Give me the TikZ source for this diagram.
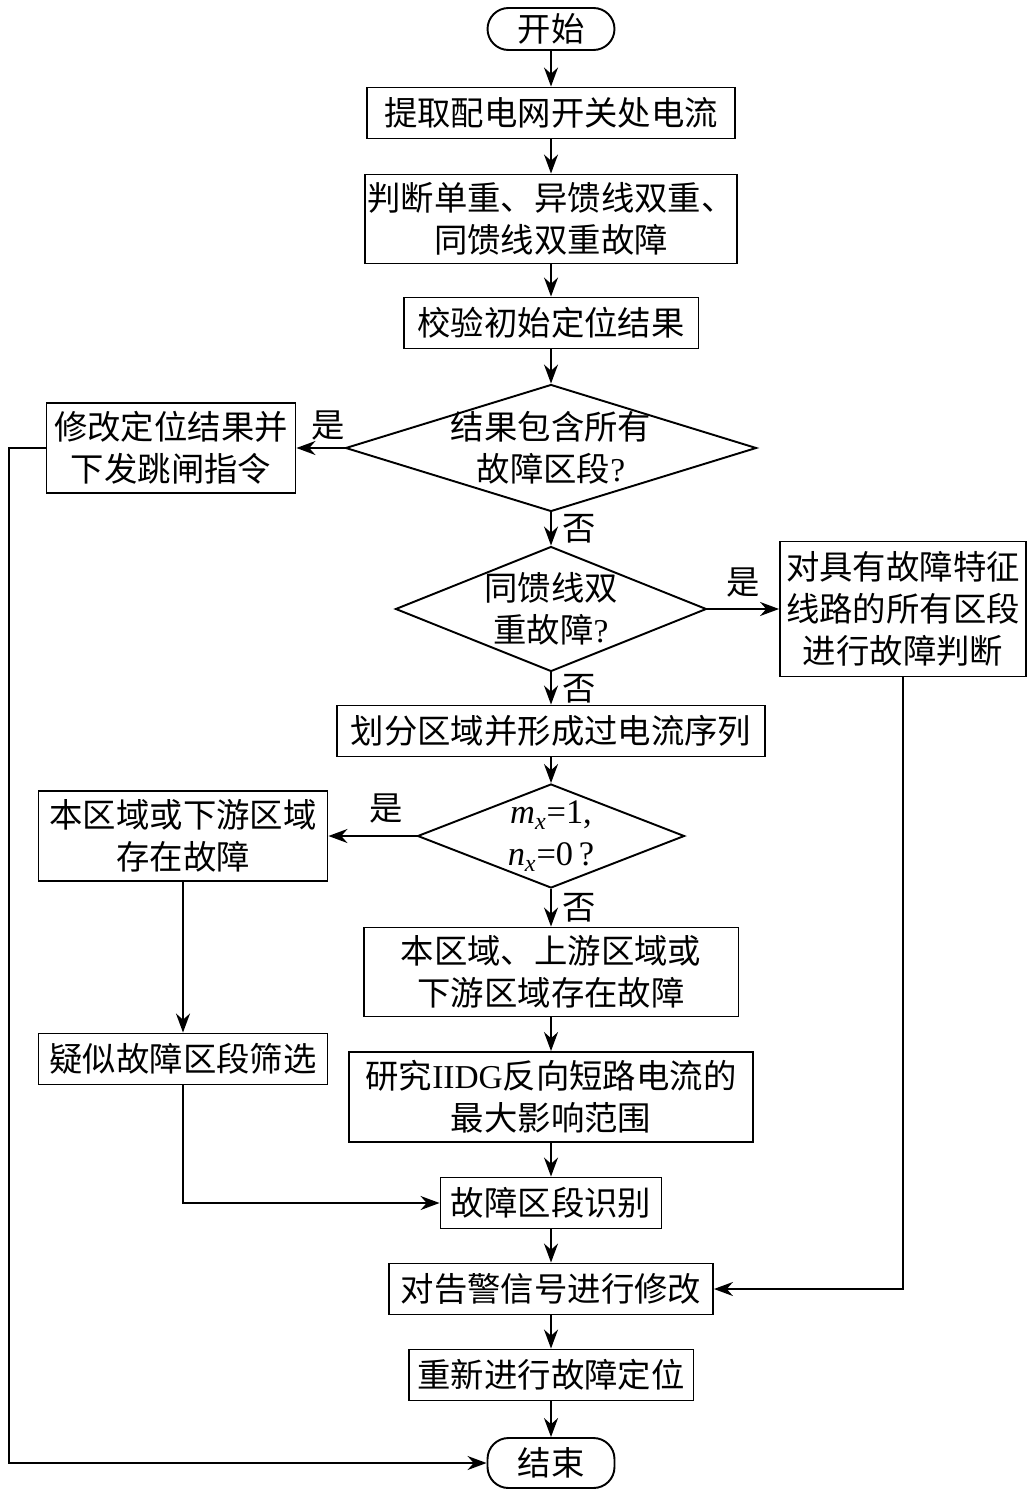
\documentclass[tikz,border=0pt]{standalone}
\usepackage{fontspec}
\setmainfont{Liberation Serif}
\newfontfamily\cjk{Noto Sans CJK SC}
\usepackage{tikz}
\usetikzlibrary{shapes.geometric}
\usetikzlibrary{arrows.meta}

\begin{document}
\begin{tikzpicture}[x=0.02cm, y=-0.02cm,
    line width=1.1pt,
    >={Stealth[length=3.8mm, width=2.8mm]},
    every node/.style={font=\cjk\fontsize{19pt}{24pt}\selectfont, align=center, inner sep=0pt},
    box/.style={draw, rectangle},
    term/.style={draw, rectangle, rounded corners=0.42cm, minimum width=2.54cm},
    dia/.style={draw, diamond}]
    \useasboundingbox (0,0) rectangle (1028,1493);

    \node[term, minimum height=0.84cm] (start) at (551,29) {开始};
    \node[box, minimum width=7.36cm, minimum height=1.02cm] (n1) at (551,113) {提取配电网开关处电流};
    \node[box, minimum width=7.44cm, minimum height=1.78cm] (n2) at (551,219) {判断单重、异馈线双重、\\同馈线双重故障};
    \node[box, minimum width=5.90cm, minimum height=1.02cm] (n3) at (551,323) {校验初始定位结果};

    \node[dia, minimum width=8.22cm, minimum height=2.54cm] (d1) at (551,448) {};
    \node at (d1) {结果包含所有\\故障区段{\rmfamily ?}};
    \node[box, minimum width=4.98cm, minimum height=1.80cm] (fix) at (171,448) {修改定位结果并\\下发跳闸指令};

    \node[dia, minimum width=6.22cm, minimum height=2.50cm] (d2) at (551,609) {};
    \node at (d2) {同馈线双\\重故障{\rmfamily ?}};
    \node[box, minimum width=4.92cm, minimum height=2.70cm] (allsec) at (903,609) {对具有故障特征\\线路的所有区段\\进行故障判断};

    \node[box, minimum width=8.56cm, minimum height=1.02cm] (n4) at (551,731) {划分区域并形成过电流序列};

    \node[dia, minimum width=5.34cm, minimum height=2.08cm] (d3) at (551,836) {};
    \node[font=\rmfamily\fontsize{19.6pt}{24pt}\selectfont] at (d3) {\textit{m}\textsubscript{\textit{x}}=1,\\\textit{n}\textsubscript{\textit{x}}=0\,?};
    \node[box, minimum width=5.78cm, minimum height=1.80cm] (down) at (183,836) {本区域或下游区域\\存在故障};

    \node[box, minimum width=7.50cm, minimum height=1.78cm] (n5) at (551,972) {本区域、上游区域或\\下游区域存在故障};
    \node[box, minimum width=5.78cm, minimum height=1.02cm] (susp) at (183,1059) {疑似故障区段筛选};
    \node[box, minimum width=8.08cm, minimum height=1.80cm] (n6) at (551,1097) {研究{\rmfamily IIDG}反向短路电流的\\最大影响范围};
    \node[box, minimum width=4.42cm, minimum height=1.02cm] (ident) at (551,1203) {故障区段识别};
    \node[box, minimum width=6.48cm, minimum height=1.02cm] (alarm) at (551,1289) {对告警信号进行修改};
    \node[box, minimum width=5.70cm, minimum height=1.02cm] (reloc) at (551,1375) {重新进行故障定位};
    \node[term, minimum height=1.00cm] (stop) at (551,1463) {结束};

    \coordinate (lc) at (9,448);

    \draw[->] (start) -- (n1);
    \draw[->] (n1) -- (n2);
    \draw[->] (n2) -- (n3);
    \draw[->] (n3) -- (d1);
    \draw[->] (d1.west) -- (fix.east) node[pos=0.35, above=4pt] (y1) {是};
    \draw[->] (fix.west) -- (lc) |- (stop.west);
    \draw[->] (d1.south) -- (d2.north) node[midway, right=6pt] (o1) {否};
    \draw[->] (d2.east) -- (allsec.west) node[midway, above=6pt] (y2) {是};
    \draw[->] (allsec.south) |- (alarm.east);
    \draw[->] (d2.south) -- (n4.north) node[midway, right=6pt] (o2) {否};
    \draw[->] (n4) -- (d3);
    \draw[->] (d3.west) -- (down.east) node[pos=0.35, above=7pt] (y3) {是};
    \draw[->] (d3.south) -- (n5.north) node[midway, right=6pt] (o3) {否};
    \draw[->] (down.south) -- (susp.north);
    \draw[->] (susp.south) |- (ident.west);
    \draw[->] (n5) -- (n6);
    \draw[->] (n6) -- (ident);
    \draw[->] (ident) -- (alarm);
    \draw[->] (alarm) -- (reloc);
    \draw[->] (reloc) -- (stop);
  \end{tikzpicture}
\end{document}
